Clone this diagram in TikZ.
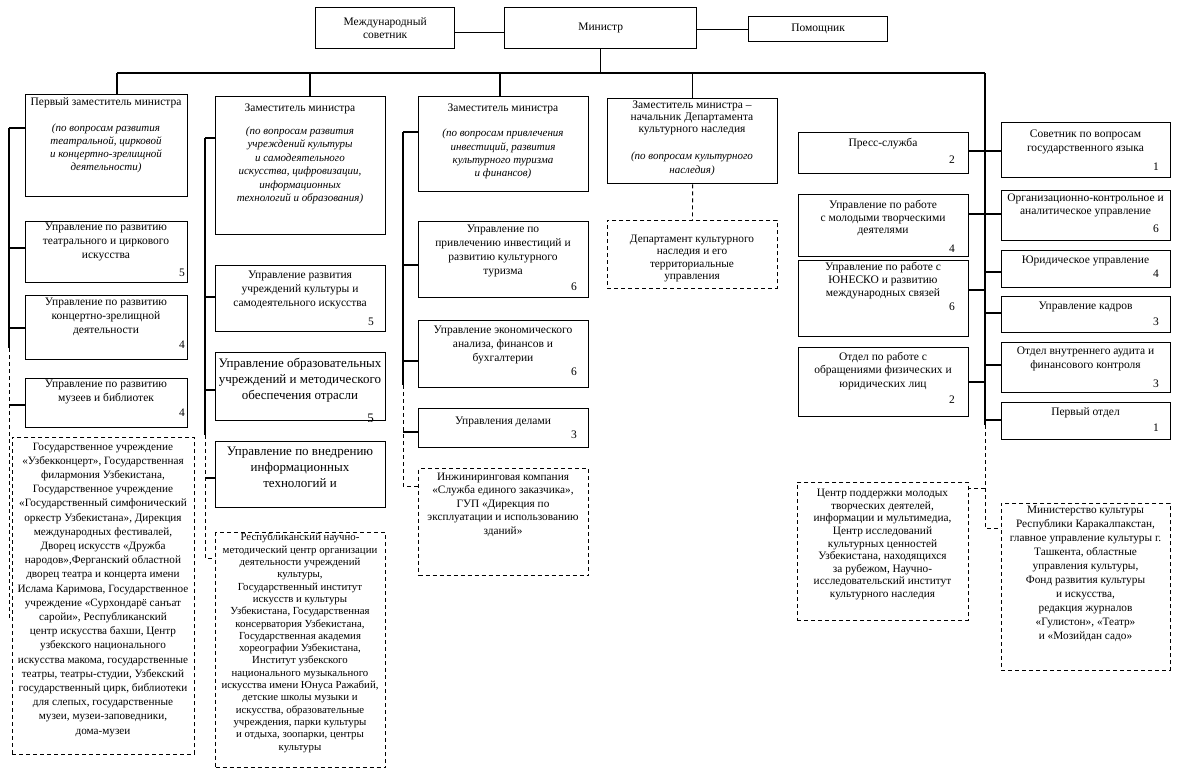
\documentclass[tikz,border=0pt]{standalone}
\usepackage{fontspec}
\setmainfont{Liberation Serif}
\begin{document}
\begin{tikzpicture}[x=1pt,y=-1pt,
  box/.style={draw, line width=1.3pt, inner sep=0pt, anchor=north west},
  dbox/.style={draw, dash pattern=on 4pt off 3pt, line width=0.9pt, inner sep=0pt, anchor=north west},
  ln/.style={line width=1.3pt},
  dln/.style={dash pattern=on 4pt off 3pt, line width=0.9pt},
  t/.style={align=center, inner sep=0pt, anchor=north, font=\fontsize{11.5}{13.8}\selectfont, execute at begin node=\strut},
  ti/.style={align=center, inner sep=0pt, anchor=north, font=\fontsize{11}{12.8}\selectfont\itshape, execute at begin node=\strut},
  tb/.style={align=center, inner sep=0pt, anchor=north, font=\fontsize{13}{15.8}\selectfont, execute at begin node=\strut},
  tx/.style={align=center, inner sep=0pt, anchor=north, font=\fontsize{11}{13.3}\selectfont, execute at begin node=\strut},
  num/.style={inner sep=0pt, anchor=east, font=\fontsize{11.5}{13}\selectfont},
  numb/.style={inner sep=0pt, anchor=east, font=\fontsize{13}{15}\selectfont}
]
\useasboundingbox[fill=white] (0,0) rectangle (1178,772);

% ---------- top ----------
\node[box, minimum width=139, minimum height=41, align=center, font=\fontsize{11.5}{13.5}\selectfont] (adv) at (315,7) {Международный\\советник};
\node[box, minimum width=192, minimum height=41, font=\fontsize{11.5}{13.5}\selectfont] (min) at (504,7) {Министр};
\node[box, minimum width=139, minimum height=25, font=\fontsize{11.5}{13.5}\selectfont] (pom) at (748,16) {Помощник};
\draw[ln] ([yshift=-4pt]adv.east) -- ([yshift=-4pt]adv.east -| min.west);
\draw[ln] (min.east |- pom.west) -- (pom.west);

\coordinate (bl) at (117,73);
\coordinate (br) at (985,73);
\coordinate (j2) at (310,73);
\coordinate (j3) at (500,73);
\draw[ln] (min.south) -- (min.south |- bl);
\draw[ln] (bl) -- (br);

% ---------- column 1 ----------
\node[box, minimum width=162, minimum height=102] (d1) at (25,94) {};
\node[t] (d1t) at (106,96) {Первый заместитель министра};
\node[ti] (d1i) at (106,124) {(по вопросам развития\\театральной, цирковой\\и концертно-зрелищной\\деятельности)};

\node[box, minimum width=162, minimum height=61] (u11) at (25,221) {};
\node[t] (u11t) at (106,223) {Управление по развитию\\театрального и циркового\\искусства};
\node[num] (n11) at (185,273) {5};

\node[box, minimum width=162, minimum height=64] (u12) at (25,295) {};
\node[t] (u12t) at (106,298) {Управление по развитию\\концертно-зрелищной\\деятельности};
\node[num] (n12) at (185,345) {4};

\node[box, minimum width=162, minimum height=49] (u13) at (25,378) {};
\node[t] (u13t) at (106,380) {Управление по развитию\\музеев и библиотек};
\node[num] (n13) at (185,413) {4};

\node[dbox, minimum width=182, minimum height=317] (dx1) at (12,437) {};
\node[tx, font=\fontsize{11.2}{14.2}\selectfont] (dx1t) at (103,442.5) {Государственное учреждение\\«Узбекконцерт», Государственная\\филармония Узбекистана,\\Государственное учреждение\\«Государственный симфонический\\оркестр Узбекистана», Дирекция\\международных фестивалей,\\Дворец искусств «Дружба\\народов»,Ферганский областной\\дворец театра и концерта имени\\Ислама Каримова, Государственное\\учреждение «Сурхондарё санъат\\саройи», Республиканский\\центр искусства бахши, Центр\\узбекского национального\\искусства макома, государственные\\театры,  театры-студии, Узбекский\\государственный цирк, библиотеки\\для слепых, государственные\\музеи,  музеи-заповедники,\\дома-музеи};

\draw[ln] (bl) -- (bl |- d1.north);
\coordinate (a1) at (9,128);
\coordinate (a2) at (9,248);
\coordinate (a3) at (9,328);
\coordinate (a4) at (9,405);
\coordinate (as) at (9,348);
\coordinate (ae) at (9,617);
\draw[ln] (a1) -- (as);
\draw[dln] (as) -- (ae) -- (ae -| dx1.west);
\draw[ln] (a1) -- (a1 -| d1.west);
\draw[ln] (a2) -- (a2 -| u11.west);
\draw[ln] (a3) -- (a3 -| u12.west);
\draw[ln] (a4) -- (a4 -| u13.west);

% ---------- column 2 ----------
\node[box, minimum width=170, minimum height=138] (d2) at (215,96) {};
\node[t] (d2t) at (300,102) {Заместитель министра};
\node[ti, font=\fontsize{11}{13.5}\selectfont\itshape] (d2i) at (300,126.5) {(по вопросам развития\\учреждений культуры\\и самодеятельного\\искусства, цифровизации,\\информационных\\технологий и образования)};

\node[box, minimum width=170, minimum height=66] (u21) at (215,265) {};
\node[t] (u21t) at (300,271) {Управление развития\\учреждений культуры и\\самодеятельного искусства};
\node[num] (n21) at (374,322) {5};

\node[box, minimum width=170, minimum height=68] (u22) at (215,352) {};
\node[tb] (u22t) at (300,358) {Управление образовательных\\учреждений и методического\\обеспечения отрасли};
\begin{scope}
\clip (u22.north west) rectangle (u22.south east);
\node[numb] (n22) at (374,418) {5};
\end{scope}

\node[box, minimum width=170, minimum height=66] (u23) at (215,441) {};
\node[tb] (u23t) at (300,447) {Управление по внедрению\\информационных\\технологий и};

\node[dbox, line width=1.4pt, minimum width=170, minimum height=235] (dx2) at (215,532) {};
\node[tx, font=\fontsize{10.8}{12.3}\selectfont] (dx2t) at (300,533) {Республиканский научно-\\методический центр организации\\деятельности учреждений\\культуры,\\Государственный институт\\искусств и культуры\\Узбекистана, Государственная\\консерватория Узбекистана,\\Государственная академия\\хореографии Узбекистана,\\Институт узбекского\\национального музыкального\\искусства имени Юнуса Ражабий,\\детские школы музыки и\\искусства, образовательные\\учреждения, парки культуры\\и отдыха, зоопарки, центры\\культуры};

\draw[ln] (j2) -- (j2 |- d2.north);
\coordinate (b1) at (205,138);
\coordinate (b2) at (205,297);
\coordinate (b3) at (205,390);
\coordinate (b4) at (205,478);
\coordinate (bs) at (205,435);
\coordinate (be) at (205,558);
\draw[ln] (b1) -- (bs);
\draw[dln] (bs) -- (be) -- (be -| dx2.west);
\draw[ln] (b1) -- (b1 -| d2.west);
\draw[ln] (b2) -- (b2 -| u21.west);
\draw[ln] (b3) -- (b3 -| u22.west);
\draw[ln] (b4) -- (b4 -| u23.west);

% ---------- column 3 ----------
\node[box, minimum width=170, minimum height=95] (d3) at (418,96) {};
\node[t] (d3t) at (503,102) {Заместитель министра};
\node[ti, font=\fontsize{11}{13.3}\selectfont\itshape] (d3i) at (503,129) {(по вопросам привлечения\\инвестиций, развития\\культурного туризма\\и финансов)};

\node[box, minimum width=170, minimum height=76] (u31) at (418,221) {};
\node[t] (u31t) at (503,225) {Управление по\\привлечению инвестиций и\\развитию культурного\\туризма};
\node[num] (n31) at (577,287) {6};

\node[box, minimum width=170, minimum height=67] (u32) at (418,320) {};
\node[t] (u32t) at (503,326) {Управление экономического\\анализа, финансов и\\бухгалтерии};
\node[num] (n32) at (577,372) {6};

\node[box, minimum width=170, minimum height=39] (u33) at (418,408) {};
\node[t] (u33t) at (503,415) {Управления делами};
\node[num] (n33) at (577,435) {3};

\node[dbox, line width=1.2pt, minimum width=170, minimum height=107] (dx3) at (418,468) {};
\node[tx, font=\fontsize{11.3}{13.5}\selectfont] (dx3t) at (503,472.5) {Инжиниринговая компания\\«Служба единого заказчика»,\\ГУП «Дирекция по\\эксплуатации и использованию\\зданий»};

\draw[ln] (j3) -- (j3 |- d3.north);
\coordinate (c1) at (403,132);
\coordinate (c2) at (403,265);
\coordinate (c3) at (403,361);
\coordinate (c4) at (403,432);
\coordinate (cs) at (403,385);
\coordinate (ce) at (403,486);
\draw[ln] (c1) -- (cs);
\draw[dln] (cs) -- (ce) -- (ce -| dx3.west);
\draw[ln] (c1) -- (c1 -| d3.west);
\draw[ln] (c2) -- (c2 -| u31.west);
\draw[ln] (c3) -- (c3 -| u32.west);
\draw[ln] (c4) -- (c4 -| u33.west);

% ---------- column 4 ----------
\node[box, minimum width=170, minimum height=85] (d4) at (607,98) {};
\node[t, font=\fontsize{11.5}{12.2}\selectfont] (d4t) at (692,100.5) {Заместитель министра –\\начальник Департамента\\культурного наследия};
\node[ti, font=\fontsize{11}{13.5}\selectfont\itshape] (d4i) at (692,152) {(по вопросам культурного\\наследия)};

\node[dbox, minimum width=170, minimum height=68] (dx4) at (607,220) {};
\node[tx, font=\fontsize{11.3}{12.2}\selectfont] (dx4t) at (692,235) {Департамент культурного\\наследия и его\\территориальные\\управления};

\draw[ln] (d4.north |- bl) -- (d4.north);
\draw[dln] (d4.south) -- (dx4.north);

% ---------- column 5 ----------
\node[box, minimum width=170, minimum height=41] (ps) at (798,132) {};
\node[t] (pst) at (883,137) {Пресс-служба};
\node[num] (nps) at (955,160) {2};

\node[box, minimum width=170, minimum height=62] (mol) at (798,194) {};
\node[t, font=\fontsize{11.5}{12.6}\selectfont] (molt) at (883,200) {Управление по работе\\с молодыми творческими\\деятелями};
\node[num] (nmol) at (955,249) {4};

\node[box, minimum width=170, minimum height=76] (une) at (798,260) {};
\node[t, font=\fontsize{11.5}{13}\selectfont] (unet) at (883,262.5) {Управление по работе с\\ЮНЕСКО и развитию\\международных связей};
\node[num] (nune) at (955,307) {6};

\node[box, minimum width=170, minimum height=69] (obr) at (798,347) {};
\node[t, font=\fontsize{11.5}{13.5}\selectfont] (obrt) at (883,352) {Отдел по работе с\\обращениями физических и\\юридических лиц};
\node[num] (nobr) at (955,400) {2};

\node[dbox, minimum width=171, minimum height=138] (dxc) at (797,482) {};
\node[tx, font=\fontsize{11.3}{12.6}\selectfont] (dxct) at (882.5,489) {Центр поддержки молодых\\творческих деятелей,\\информации и мультимедиа,\\Центр исследований\\культурных ценностей\\Узбекистана, находящихся\\за рубежом, Научно-\\исследовательский институт\\культурного наследия};

% ---------- column 6 ----------
\node[box, minimum width=169, minimum height=55] (sov) at (1001,122) {};
\node[t] (sovt) at (1085.5,130) {Советник по вопросам\\государственного языка};
\node[num] (nsov) at (1159,167) {1};

\node[box, minimum width=169, minimum height=50] (org) at (1001,190) {};
\node[t, font=\fontsize{11.5}{13}\selectfont] (orgt) at (1085.5,194) {Организационно-контрольное и\\аналитическое управление};
\node[num] (norg) at (1159,229) {6};

\node[box, minimum width=169, minimum height=37] (yur) at (1001,250) {};
\node[t] (yurt) at (1085.5,254) {Юридическое управление};
\node[num] (nyur) at (1159,274) {4};

\node[box, minimum width=169, minimum height=36] (kad) at (1001,296) {};
\node[t] (kadt) at (1085.5,300) {Управление кадров};
\node[num] (nkad) at (1159,322) {3};

\node[box, minimum width=169, minimum height=50] (aud) at (1001,342) {};
\node[t] (audt) at (1085.5,347) {Отдел внутреннего аудита и\\финансового контроля};
\node[num] (naud) at (1159,384) {3};

\node[box, minimum width=169, minimum height=37] (per) at (1001,402) {};
\node[t] (pert) at (1085.5,406) {Первый отдел};
\node[num] (nper) at (1159,428) {1};

\node[dbox, minimum width=169, minimum height=167] (dxm) at (1001,503) {};
\node[tx, font=\fontsize{11.3}{14}\selectfont] (dxmt) at (1085.5,506) {Министерство культуры\\Республики Каракалпакстан,\\главное управление культуры г.\\Ташкента, областные\\управления культуры,\\Фонд развития культуры\\и искусства,\\редакция журналов\\«Гулистон», «Театр»\\и «Мозийдан садо»};

% ---------- right trunk ----------
\coordinate (rs) at (985,425);
\coordinate (rd1) at (985,488);
\coordinate (rd2) at (985,528);
\draw[ln] (br) -- (rs);
\draw[dln] (rs) -- (rd2) -- (rd2 -| dxm.west);
\draw[dln] (rd1) -- (rd1 -| dxc.east);
\coordinate (l1) at (985,151);
\coordinate (l2) at (985,214);
\coordinate (l3) at (985,290);
\coordinate (l4) at (985,382);
\draw[ln] (l1) -- (l1 -| ps.east);
\draw[ln] (l2) -- (l2 -| mol.east);
\draw[ln] (l3) -- (l3 -| une.east);
\draw[ln] (l4) -- (l4 -| obr.east);
\coordinate (r1) at (985,151);
\coordinate (r2) at (985,214);
\coordinate (r3) at (985,272);
\coordinate (r4) at (985,313);
\coordinate (r5) at (985,365);
\coordinate (r6) at (985,420);
\draw[ln] (r1) -- (r1 -| sov.west);
\draw[ln] (r2) -- (r2 -| org.west);
\draw[ln] (r3) -- (r3 -| yur.west);
\draw[ln] (r4) -- (r4 -| kad.west);
\draw[ln] (r5) -- (r5 -| aud.west);
\draw[ln] (r6) -- (r6 -| per.west);
\end{tikzpicture}
\end{document}
